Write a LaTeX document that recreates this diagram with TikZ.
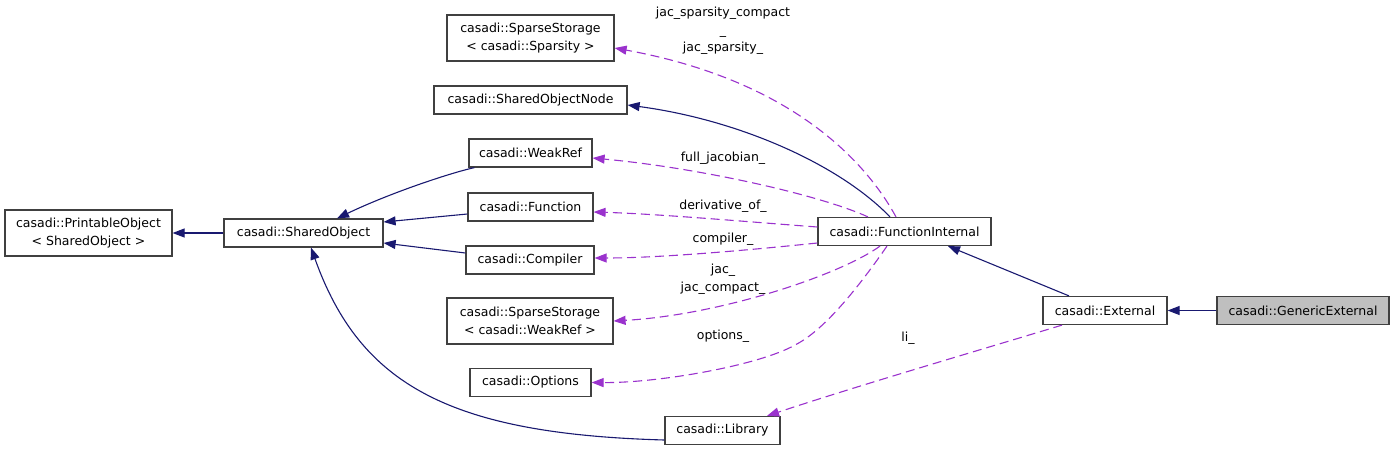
\documentclass[tikz,border=0pt]{standalone}
\usepackage{fontspec}
\setmainfont{DejaVu Sans}
\usetikzlibrary{arrows.meta}
\definecolor{navyedge}{HTML}{191970}
\definecolor{orchid}{HTML}{9A32CD}
\definecolor{hlgray}{HTML}{BFBFBF}
\begin{document}
\begin{tikzpicture}[x=1pt,y=-1pt,
  cls/.style={draw=black!75, fill=white, line width=1.2pt, inner sep=0pt, align=center,
    font=\fontsize{12.5}{17.5}\selectfont},
  inh/.style={draw=navyedge, line width=1.1pt, -{Triangle[length=12pt,width=9pt]}},
  usage/.style={draw=orchid, line width=1.1pt, dash pattern=on 9pt off 5pt,
    -{Triangle[length=12pt,width=9pt]}},
  lbl/.style={inner sep=0pt, align=center, font=\fontsize{12.5}{17.5}\selectfont}
]
\useasboundingbox (0,0) rectangle (1395,451);

% nodes
\node[cls, minimum width=167pt, minimum height=46pt] (po) at (88.5,233) {casadi::PrintableObject\\< SharedObject >};
\node[cls, minimum width=159pt, minimum height=28pt] (so) at (303.5,233) {casadi::SharedObject};
\node[cls, minimum width=167pt, minimum height=46pt] (sss) at (530.5,38) {casadi::SparseStorage\\< casadi::Sparsity >};
\node[cls, minimum width=193pt, minimum height=28pt] (son) at (530.5,100) {casadi::SharedObjectNode};
\node[cls, minimum width=123pt, minimum height=28pt] (wr) at (530.5,153) {casadi::WeakRef};
\node[cls, minimum width=125pt, minimum height=28pt] (fn) at (530.5,207) {casadi::Function};
\node[cls, minimum width=128pt, minimum height=28pt] (cp) at (530,260) {casadi::Compiler};
\node[cls, minimum width=166pt, minimum height=46pt] (ssw) at (530,321) {casadi::SparseStorage\\< casadi::WeakRef >};
\node[cls, minimum width=121pt, minimum height=28pt] (opt) at (530.5,382.5) {casadi::Options};
\node[cls, minimum width=115pt, minimum height=28pt] (lib) at (722.5,430.5) {casadi::Library};
\node[cls, minimum width=173pt, minimum height=28pt] (fi) at (904.5,231.5) {casadi::FunctionInternal};
\node[cls, minimum width=124pt, minimum height=28pt] (ext) at (1105,310.5) {casadi::External};
\node[cls, fill=hlgray, minimum width=172pt, minimum height=28pt] (ge) at (1303,310.5) {casadi::GenericExternal};

% inheritance edges
\draw[inh] (so.west) -- (po.east);
\draw[inh] ([xshift=6pt]wr.south west) .. controls (450,173) and (390,193) .. ([xshift=33.5pt]so.north);
\draw[inh] ([yshift=-7pt]fn.west) -- ([yshift=11pt]so.east);
\draw[inh] ([yshift=7pt]cp.west) -- ([yshift=-10pt]so.east);
\draw[inh] ([yshift=-9.5pt]lib.west) .. controls (450,434) and (360,385) .. ([xshift=7.5pt]so.south);
\draw[inh] ([xshift=-14.5pt]fi.north) .. controls (840,165) and (740,120) .. ([yshift=-5pt]son.east);
\draw[inh] ([xshift=-36pt]ext.north) -- ([xshift=43.5pt]fi.south);
\draw[inh] (ge.west) -- (ext.east);

% usage edges
\coordinate (optbend) at (795,345);
\draw[usage] ([xshift=-8.5pt]fi.north) .. controls (865,160) and (790,80) .. ([yshift=-10pt]sss.east);
\draw[usage] ([xshift=-36.5pt]fi.north) .. controls (820,195) and (700,168) .. ([yshift=-5pt]wr.east);
\draw[usage] ([yshift=4.5pt]fi.west) .. controls (750,222) and (660,214) .. ([yshift=-5pt]fn.east);
\draw[usage] ([yshift=-11.5pt]fi.west) .. controls (750,250) and (660,258) .. ([yshift=2pt]cp.east);
\draw[usage] ([xshift=-24.5pt]fi.south) .. controls (840,275) and (720,315) .. (ssw.east);
\draw[usage] ([xshift=-17.5pt]fi.south) .. controls (860,285) and (825,330) .. (optbend)
   .. controls (760,365) and (660,383) .. (opt.east);
\draw[usage] ([xshift=-43pt]ext.south) .. controls (980,350) and (860,385) .. ([xshift=44.5pt]lib.north);

% labels
\node[lbl] (l1) at (723,31) {jac\_sparsity\_compact\\\_\\jac\_sparsity\_};
\node[lbl] (l2) at (723,158) {full\_jacobian\_};
\node[lbl] (l3) at (723,206) {derivative\_of\_};
\node[lbl] (l4) at (723,239) {compiler\_};
\node[lbl] (l5) at (723,279) {jac\_\\jac\_compact\_};
\node[lbl] (l6) at (723,336) {options\_};
\node[lbl] (l7) at (908,338) {li\_};
\end{tikzpicture}
\end{document}
